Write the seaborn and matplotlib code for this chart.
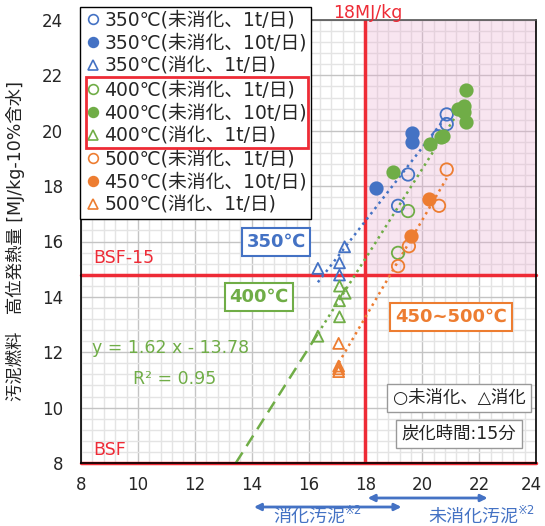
import numpy as np
import matplotlib
matplotlib.use('Agg')
import matplotlib.pyplot as plt
import seaborn as sns
from matplotlib.lines import Line2D
from matplotlib.patches import Rectangle
from matplotlib.ticker import MultipleLocator, FuncFormatter
import matplotlib.transforms as mtransforms

sns.set_style('white')
plt.rcParams['font.family'] = ['DejaVu Sans', 'Noto Sans CJK JP']

BLUE = '#4472C4'
GREEN = '#70AD47'
ORANGE = '#ED7D31'
RED = '#EE2B36'

# series: (x, y) = (x axis value, heating value)
b_open_x = [20.86, 20.86, 20.57, 19.50, 19.15]
b_open_y = [20.59, 20.24, 19.80, 18.42, 17.29]
b_fill_x = [19.63, 19.63, 18.39]
b_fill_y = [19.92, 19.60, 17.92]
b_tri_x = [16.33, 17.27, 17.09, 17.09]
b_tri_y = [15.03, 15.81, 15.23, 14.79]

g_open_x = [19.50, 19.15]
g_open_y = [17.10, 15.59]
g_fill_x = [21.54, 21.48, 21.27, 21.48, 21.54, 20.72, 20.65, 20.27, 18.97]
g_fill_y = [21.47, 20.91, 20.77, 20.68, 20.31, 19.80, 19.78, 19.52, 18.52]
g_tri_x = [17.09, 17.29, 17.09, 17.09, 16.33]
g_tri_y = [14.39, 14.13, 13.86, 13.28, 12.58]

o_open_x = [20.86, 20.59, 19.53, 19.15]
o_open_y = [18.60, 17.29, 15.83, 15.11]
o_fill_x = [20.25, 19.60]
o_fill_y = [17.52, 16.20]
o_tri_x = [17.06, 17.06, 17.06, 17.06]
o_tri_y = [12.32, 11.50, 11.40, 11.30]

labels = ['350℃(未消化、1t/日)', '350℃(未消化、10t/日)', '350℃(消化、1t/日)',
          '400℃(未消化、1t/日)', '400℃(未消化、10t/日)', '400℃(消化、1t/日)',
          '500℃(未消化、1t/日)', '450℃(未消化、10t/日)', '500℃(消化、1t/日)']

# green trendline from the chart's equation
g_slope, g_icpt = 1.62, -13.78

fig = plt.figure(figsize=(5.45, 5.26), dpi=100)
ax = fig.add_axes([81 / 545, 1 - 463 / 526, 455 / 545, 443 / 526])
ax.set_xlim(8, 24)
ax.set_ylim(8, 24)
ax.xaxis.set_major_locator(MultipleLocator(2))
ax.yaxis.set_major_locator(MultipleLocator(2))
ax.xaxis.set_minor_locator(MultipleLocator(0.4))
ax.yaxis.set_minor_locator(MultipleLocator(0.4))
# the "24" at the right edge is drawn separately so it stays inside the canvas
ax.xaxis.set_major_formatter(FuncFormatter(lambda v, p: '' if v >= 24 else f'{v:.0f}'))
ax.set_axisbelow(True)
ax.grid(which='minor', color='#e4e4e4', lw=1.0)
ax.grid(which='major', color='#c4c4c4', lw=1.0)
ax.tick_params(which='both', length=0, labelsize=12)
ax.tick_params(axis='x', pad=9)
ax.tick_params(axis='y', pad=13)
for s in ax.spines.values():
    s.set_color('black')
    s.set_linewidth(1.2)
ax.spines['top'].set_color('#555555')

# target region shading
ax.add_patch(Rectangle((18, 14.8), 6, 9.2, facecolor='#E9A9CF', alpha=0.3,
                       edgecolor='none', zorder=0.6))

# red reference lines
ax.axhline(14.8, color=RED, lw=2.5, zorder=2, clip_on=False)
ax.axhline(8, color=RED, lw=2.5, zorder=2, clip_on=False)
ax.plot([18, 18], [8, 24], color=RED, lw=2.5, zorder=2)

# trendlines
def trend(xs, ys, color):
    k, c = np.polyfit(xs, ys, 1)
    xx = np.array([min(xs), max(xs)])
    ax.plot(xx, k * xx + c, color=color, ls=':', lw=1.8, zorder=2.5)

trend(b_open_x + b_fill_x + b_tri_x, b_open_y + b_fill_y + b_tri_y, BLUE)
trend(o_open_x + o_fill_x + o_tri_x, o_open_y + o_fill_y + o_tri_y, ORANGE)
gx0 = min(g_tri_x)
gx1 = max(g_fill_x)
ax.plot([gx0, gx1], [g_slope * gx0 + g_icpt, g_slope * gx1 + g_icpt],
        color=GREEN, ls=':', lw=1.8, zorder=2.5)
xb = (8 - g_icpt) / g_slope
ax.plot([xb, gx0], [8, g_slope * gx0 + g_icpt], color=GREEN, ls=(0, (5, 3)),
        lw=1.8, zorder=2.5)

series = [
    (b_open_x, b_open_y, BLUE, 'o', False),
    (b_fill_x, b_fill_y, BLUE, 'o', True),
    (b_tri_x, b_tri_y, BLUE, '^', False),
    (g_open_x, g_open_y, GREEN, 'o', False),
    (g_fill_x, g_fill_y, GREEN, 'o', True),
    (g_tri_x, g_tri_y, GREEN, '^', False),
    (o_open_x, o_open_y, ORANGE, 'o', False),
    (o_fill_x, o_fill_y, ORANGE, 'o', True),
    (o_tri_x, o_tri_y, ORANGE, '^', False),
]
handles = []
for (xs, ys, c, m, filled), lab in zip(series, labels):
    fc = c if filled else 'none'
    sns.scatterplot(x=xs, y=ys, ax=ax, marker=m, s=80 if m == 'o' else 62,
                    facecolor=fc, edgecolor=c, linewidth=1.3, zorder=3)
    handles.append(Line2D([], [], ls='none', marker=m, markersize=7,
                          markerfacecolor=fc, markeredgecolor=c,
                          markeredgewidth=1.2, label=lab))

leg = ax.legend(handles=handles, loc='upper left',
                bbox_to_anchor=(-0.002, 1 + 13 / 443),
                borderaxespad=0, fancybox=False, edgecolor='black', framealpha=1,
                fontsize=13.5, handletextpad=0.1, handlelength=1.0,
                labelspacing=0.22, borderpad=0.2)
leg.get_frame().set_linewidth(1.0)
leg.set_zorder(10)

fig.canvas.draw()
renderer = fig.canvas.get_renderer()

# "24" tick label, nudged left a little
ref = ax.get_xticklabels()[0].get_window_extent(renderer)
fig.text(531 / 545, (ref.y0 + ref.y1) / 2 / fig.bbox.height, '24', fontsize=12,
         ha='center', va='center', color='#262626')

# red box around the 400 ℃ entries
tb = [t.get_window_extent(renderer) for t in leg.get_texts()[3:6]]
lb = leg.get_window_extent(renderer)
y0 = min(b.y0 for b in tb) - 3
y1 = max(b.y1 for b in tb) + 3
inv = fig.transFigure.inverted()
(bx0, by0), (bx1, by1) = inv.transform([(lb.x0 + 6, y0), (lb.x1 - 3, y1)])
fig.patches.append(Rectangle((bx0, by0), bx1 - bx0, by1 - by0,
                             transform=fig.transFigure, fill=False,
                             edgecolor=RED, lw=2.0, zorder=20))

def fx(px):
    return px / 545

def fy(py):
    return 1 - py / 526

fig.text(fx(333), fy(13), '18MJ/kg', color=RED, fontsize=12.5, va='center')
fig.text(fx(93), fy(258), 'BSF-15', color=RED, fontsize=12.5, va='center')
fig.text(fx(93), fy(450), 'BSF', color=RED, fontsize=12.5, va='center')

fig.text(fx(276), fy(242), '350℃', color=BLUE, fontsize=13, fontweight='bold',
         ha='center', va='center',
         bbox=dict(boxstyle='square,pad=0.25', fc='white', ec=BLUE, lw=1.5))
fig.text(fx(259), fy(297), '400℃', color=GREEN, fontsize=13, fontweight='bold',
         ha='center', va='center',
         bbox=dict(boxstyle='square,pad=0.25', fc='white', ec=GREEN, lw=1.5))
fig.text(fx(451), fy(317), '450~500℃', color=ORANGE, fontsize=13,
         fontweight='bold', ha='center', va='center',
         bbox=dict(boxstyle='square,pad=0.3', fc='white', ec=ORANGE, lw=1.5))

fig.text(fx(92), fy(348), 'y = 1.62 x - 13.78', color=GREEN, fontsize=12.5,
         va='center')
fig.text(fx(175), fy(379), 'R² = 0.95', color=GREEN, fontsize=12.5,
         ha='center', va='center')

fig.text(fx(459), fy(398), '○未消化、△消化', fontsize=12.5, ha='center',
         va='center', color='#222222',
         bbox=dict(boxstyle='square,pad=0.3', fc='white', ec='#999999', lw=1.0))
fig.text(fx(459), fy(434), '炭化時間:15分', fontsize=12.5, ha='center',
         va='center', color='#222222',
         bbox=dict(boxstyle='square,pad=0.3', fc='white', ec='#999999', lw=1.0))

fig.text(fx(15), fy(241), '汚泥燃料　高位発熱量 [MJ/kg-10%含水]', fontsize=12.5,
         rotation=90, ha='center', va='center', color='#222222')

# sludge range arrows under the x axis
trans = mtransforms.blended_transform_factory(ax.transData, fig.transFigure)
ax.annotate('', xy=(14.08, fy(507)), xytext=(19.27, fy(507)), xycoords=trans,
            textcoords=trans, annotation_clip=False,
            arrowprops=dict(arrowstyle='<|-|>', color=BLUE, lw=2,
                            mutation_scale=10, shrinkA=0, shrinkB=0))
ax.annotate('', xy=(18.08, fy(498)), xytext=(22.3, fy(498)), xycoords=trans,
            textcoords=trans, annotation_clip=False,
            arrowprops=dict(arrowstyle='<|-|>', color=BLUE, lw=2,
                            mutation_scale=10, shrinkA=0, shrinkB=0))

def sludge_label(px, txt):
    t = fig.text(fx(px), fy(517), txt, color=BLUE, fontsize=13, va='center')
    e = t.get_window_extent(renderer)
    fig.text(e.x1 / fig.bbox.width, fy(511), '※2', color=BLUE, fontsize=8.5,
             va='center')

sludge_label(273, '消化汚泥')
sludge_label(428, '未消化汚泥')

fig.savefig('out.png', dpi=100)
